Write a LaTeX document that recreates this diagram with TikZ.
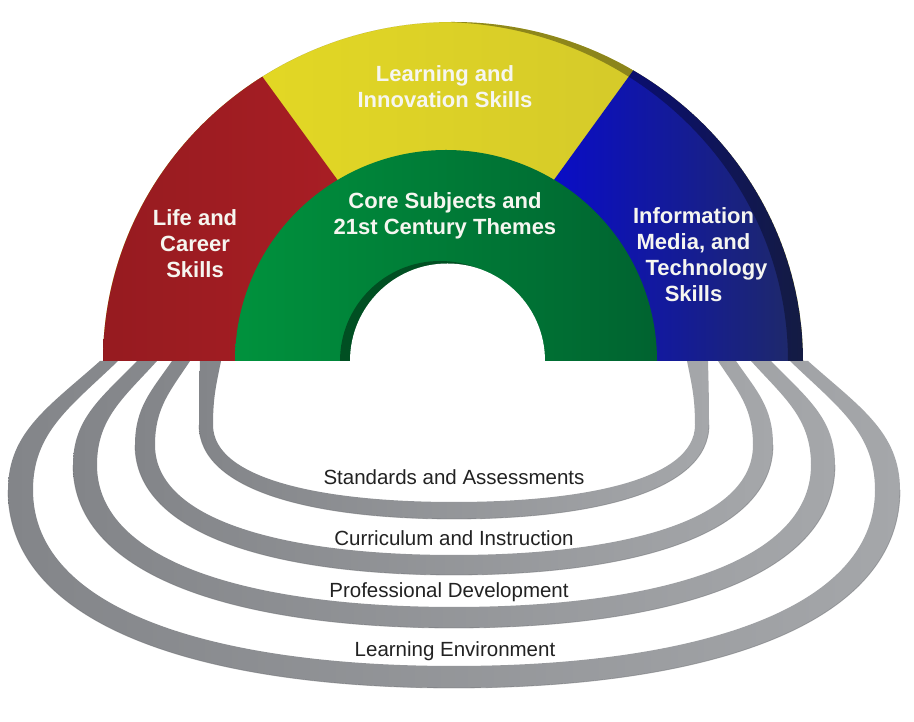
\documentclass[tikz,border=0pt]{standalone}
\usepackage{fontspec}
\setmainfont{Liberation Sans}
\definecolor{yelL}{HTML}{E8DD22}
\definecolor{yelR}{HTML}{CFC42C}
\definecolor{redL}{HTML}{961B20}
\definecolor{redR}{HTML}{B01F26}
\definecolor{bluL}{HTML}{0000F0}
\definecolor{bluR}{HTML}{1F2A66}
\definecolor{grnL}{HTML}{00923D}
\definecolor{grnR}{HTML}{006330}
\definecolor{grnD}{HTML}{004F22}
\definecolor{bandL}{HTML}{838589}
\definecolor{bandR}{HTML}{A5A7AA}
\definecolor{bandE}{HTML}{66686C}
\definecolor{lbl}{HTML}{F6F6F0}
\definecolor{ringtxt}{HTML}{222222}
\tikzset{
  archlbl/.style={font=\bfseries\fontsize{22}{26}\selectfont, text=lbl, align=center, inner sep=0pt},
  ringlbl/.style={font=\fontsize{20.5}{24}\selectfont, text=ringtxt, inner sep=0pt, anchor=base},
  bandedge/.style={draw=bandE, line width=0.8pt, opacity=0.45}
}
% #1 outer top x, #2 outer leg x, #3 outer leg y, #4 outer bottom y,
% #5 inner top x, #6 inner leg x, #7 inner leg y, #8 inner bottom y  (image pixel coordinates)
\newcommand\drawband[8]{%
\shade[left color=bandL, right color=bandR]
 (#1,361)
 .. controls ({#1+0.55*(#2-#1)},{722-(361+0.35*(#3-361))}) and (#2,{722-(#3-0.45*(#3-361))}) .. (#2,{722-#3})
 .. controls (#2,{722-(#3+0.7*(#4-#3))}) and ({#2+0.45*(454-#2)},{722-#4}) .. (454,{722-#4})
 .. controls ({908-#2-0.45*(454-#2)},{722-#4}) and ({908-#2},{722-(#3+0.7*(#4-#3))}) .. ({908-#2},{722-#3})
 .. controls ({908-#2},{722-(#3-0.45*(#3-361))}) and ({908-#1-0.55*(#2-#1)},{722-(361+0.35*(#3-361))}) .. ({908-#1},361)
 -- ({908-#5},361)
 .. controls ({908-#5-0.55*(#6-#5)},{722-(361+0.35*(#7-361))}) and ({908-#6},{722-(#7-0.45*(#7-361))}) .. ({908-#6},{722-#7})
 .. controls ({908-#6},{722-(#7+0.7*(#8-#7))}) and ({908-#6-0.45*(454-#6)},{722-#8}) .. (454,{722-#8})
 .. controls ({#6+0.45*(454-#6)},{722-#8}) and (#6,{722-(#7+0.7*(#8-#7))}) .. (#6,{722-#7})
 .. controls (#6,{722-(#7-0.45*(#7-361))}) and ({#5+0.55*(#6-#5)},{722-(361+0.35*(#7-361))}) .. (#5,361)
 -- cycle;
\draw[bandedge]
 (#2,{722-#3})
 .. controls (#2,{722-(#3+0.7*(#4-#3))}) and ({#2+0.45*(454-#2)},{722-#4}) .. (454,{722-#4})
 .. controls ({908-#2-0.45*(454-#2)},{722-#4}) and ({908-#2},{722-(#3+0.7*(#4-#3))}) .. ({908-#2},{722-#3});
}
\begin{document}
\begin{tikzpicture}[x=1pt,y=1pt]
\useasboundingbox (0,0) rectangle (914,722);
\fill[white] (0,0) rectangle (914,722);

% ---- grey rings ----
\drawband{100}{8}{490}{688}{118}{33}{490}{666}
\drawband{137}{73}{465}{628}{157}{97}{465}{607}
\drawband{172}{135}{445}{575}{190}{155}{445}{555}
\drawband{200}{199}{425}{519}{221}{213}{425}{502}

% ---- arch ----
\shade[left color=yelL, right color=yelR]
  (103,361) arc[start angle=180, end angle=0, x radius=350, y radius=339] -- cycle;
\shade[left color=redL, right color=redR]
  (103,361) arc[start angle=180, end angle=123, x radius=350, y radius=339] -- (446,393) -- (446,361) -- cycle;
\shade[left color=bluL, right color=bluR]
  (803,361) arc[start angle=0, end angle=59, x radius=350, y radius=339] -- (446,393) -- (446,361) -- cycle;
\begin{scope}
  \clip (103,361) arc[start angle=180, end angle=0, x radius=350, y radius=339] -- cycle;
  \fill[black, opacity=0.34, even odd rule]
    (453,361) ellipse[x radius=350, y radius=339]
    (438,361) ellipse[x radius=350, y radius=339];
\end{scope}
\shade[left color=grnL, right color=grnR]
  (235,361) arc[start angle=180, end angle=0, radius=211] -- cycle;
\fill[grnD] (340,361) arc[start angle=180, end angle=0, radius=100] -- cycle;
\fill[white] (350,361) arc[start angle=180, end angle=0, radius=97.5] -- cycle;

% ---- labels ----
\node[archlbl] (lis) at (445,635.5) {Learning and\\Innovation Skills};
\node[archlbl] (core) at (445,506) {Core Subjects and\\21st Century Themes};
\node[archlbl] (life) at (195,478.5) {Life and\\Career\\Skills};
\node[archlbl] (imt) at (693.5,467) {Information\\Media, and\\\hspace*{26pt}Technology\\Skills};

\node[ringlbl] (sa) at (454,237) {Standards and Assessments};
\node[ringlbl] (ci) at (454,176) {Curriculum and Instruction};
\node[ringlbl] (pd) at (449,124) {Professional Development};
\node[ringlbl] (le) at (455,65) {Learning Environment};
\end{tikzpicture}
\end{document}
